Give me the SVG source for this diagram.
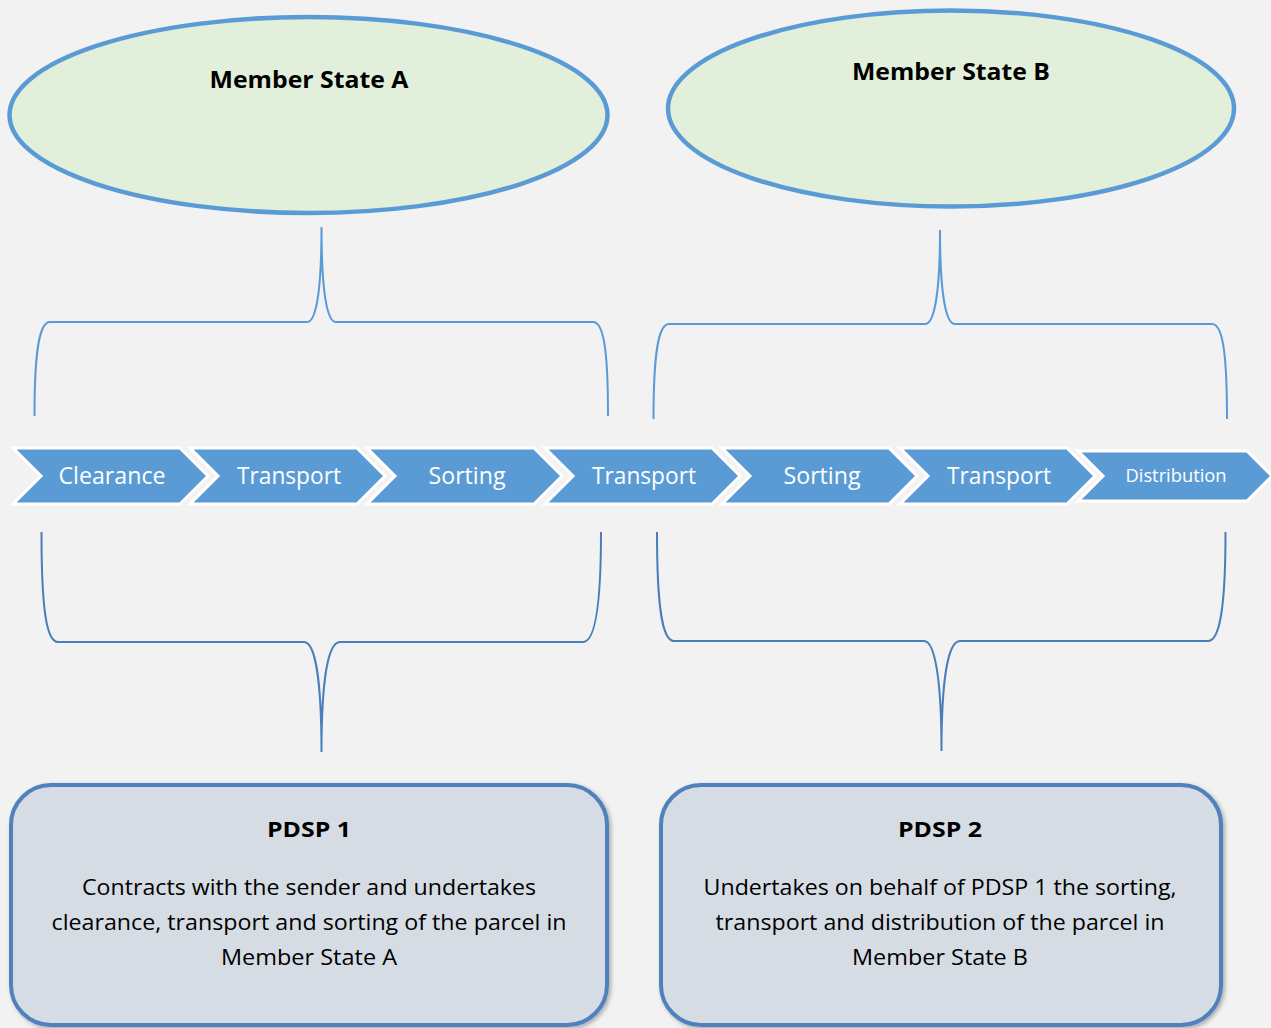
<svg xmlns="http://www.w3.org/2000/svg" width="1271" height="1028" viewBox="0 0 1271 1028">
  <defs>
    <style>
      .bg { fill: #f2f2f2; }
      .state { fill: #e2efda; stroke: #5b9bd5; stroke-width: 4.5; }
      .state-label { font-family: "Open Sans", "Liberation Sans", sans-serif; font-weight: 700; font-size: 24px; fill: #000; text-anchor: middle; }
      .step { fill: #5b9bd5; stroke: #ffffff; stroke-width: 3; stroke-linejoin: miter; }
      .step-label { font-family: "Open Sans", "Liberation Sans", sans-serif; font-size: 23px; fill: #ffffff; text-anchor: middle; }
      .step-label-small { font-family: "Open Sans", "Liberation Sans", sans-serif; font-size: 18px; fill: #ffffff; text-anchor: middle; }
      .brace-top { fill: none; stroke: #5b9bd5; stroke-width: 2; }
      .brace-bottom { fill: none; stroke: #4a7ebb; stroke-width: 2; }
      .provider { fill: #d6dce4; stroke: #4f81bd; stroke-width: 4; }
      .provider-title { font-family: "Open Sans", "Liberation Sans", sans-serif; font-weight: 700; font-size: 22px; fill: #000; text-anchor: middle; }
      .provider-text { font-family: "Open Sans", "Liberation Sans", sans-serif; font-size: 21px; fill: #000; text-anchor: middle; }
    </style>
    <filter id="shadow" x="-5%" y="-5%" width="110%" height="115%">
      <feDropShadow dx="2" dy="2" stdDeviation="2" flood-color="#000" flood-opacity="0.3"/>
    </filter>
    <!-- one process step: chevron with a notch on the left -->
    <path id="chevron" d="M0,0 L167,0 L195,28 L167,56 L0,56 L28,28 Z"/>
  </defs>

  <rect class="bg" x="0" y="0" width="1271" height="1028"/>

  <!-- Member states -->
  <g id="member-state-a">
    <ellipse class="state" cx="308.5" cy="115" rx="299" ry="98"/>
    <text class="state-label" x="309" y="88" textLength="199" lengthAdjust="spacingAndGlyphs">Member State A</text>
  </g>
  <g id="member-state-b">
    <ellipse class="state" cx="951" cy="108.5" rx="283" ry="98"/>
    <text class="state-label" x="951" y="80" textLength="198" lengthAdjust="spacingAndGlyphs">Member State B</text>
  </g>

  <!-- Process chain -->
  <g id="step-clearance">
    <use href="#chevron" class="step" x="13" y="448"/>
    <text class="step-label" x="112" y="484" textLength="107" lengthAdjust="spacingAndGlyphs">Clearance</text>
  </g>
  <g id="step-transport-1">
    <use href="#chevron" class="step" x="190" y="448"/>
    <text class="step-label" x="289" y="484" textLength="104" lengthAdjust="spacingAndGlyphs">Transport</text>
  </g>
  <g id="step-sorting-1">
    <use href="#chevron" class="step" x="367" y="448"/>
    <text class="step-label" x="467" y="484" textLength="77" lengthAdjust="spacingAndGlyphs">Sorting</text>
  </g>
  <g id="step-transport-2">
    <use href="#chevron" class="step" x="545" y="448"/>
    <text class="step-label" x="644" y="484" textLength="104" lengthAdjust="spacingAndGlyphs">Transport</text>
  </g>
  <g id="step-sorting-2">
    <use href="#chevron" class="step" x="722" y="448"/>
    <text class="step-label" x="822" y="484" textLength="77" lengthAdjust="spacingAndGlyphs">Sorting</text>
  </g>
  <g id="step-transport-3">
    <use href="#chevron" class="step" x="900" y="448"/>
    <text class="step-label" x="999" y="484" textLength="104" lengthAdjust="spacingAndGlyphs">Transport</text>
  </g>
  <g id="step-distribution">
    <path class="step" d="M1078,451 L1247,451 L1272,476 L1247,501 L1078,501 L1103,476 Z"/>
    <text class="step-label-small" x="1176" y="482" textLength="101" lengthAdjust="spacingAndGlyphs">Distribution</text>
  </g>

  <!-- Braces linking states and providers to the steps -->
  <g id="connectors">
    <path class="brace-top" d="M34.5,416 C34.5,352 39,322 50,322 L307,322 C316,322 321.5,292 321.5,227 C321.5,292 327,322 336,322 L593,322 C604,322 608,352 608,416"/>
    <path class="brace-top" d="M653.5,419 C653.5,355 658,324 669,324 L925,324 C934,324 940,295 940,230 C940,295 946,324 955,324 L1212,324 C1223,324 1227,355 1227,419"/>
    <path class="brace-bottom" d="M41.5,532 C41.5,606 46,642 58,642 L304,642 C315,642 321.5,680 321.5,752 C321.5,680 328,642 340,642 L583,642 C595,642 601,606 601,532"/>
    <path class="brace-bottom" d="M657,532 C657,606 662,641 674,641 L924,641 C935,641 941.5,680 941.5,751 C941.5,680 948,641 960,641 L1208,641 C1220,641 1225.5,606 1225.5,532"/>
  </g>

  <!-- Postal delivery service providers -->
  <g id="pdsp-1">
    <rect class="provider" x="11" y="785" width="596" height="240" rx="40" ry="40" filter="url(#shadow)"/>
    <text class="provider-title" x="309" y="837" textLength="84" lengthAdjust="spacingAndGlyphs">PDSP 1</text>
    <text class="provider-text" x="309" y="895" textLength="454" lengthAdjust="spacingAndGlyphs">Contracts with the sender and undertakes</text>
    <text class="provider-text" x="309" y="930" textLength="515" lengthAdjust="spacingAndGlyphs">clearance, transport and sorting of the parcel in</text>
    <text class="provider-text" x="309" y="965" textLength="176" lengthAdjust="spacingAndGlyphs">Member State A</text>
  </g>
  <g id="pdsp-2">
    <rect class="provider" x="661" y="785" width="560" height="240" rx="40" ry="40" filter="url(#shadow)"/>
    <text class="provider-title" x="940" y="837" textLength="84" lengthAdjust="spacingAndGlyphs">PDSP 2</text>
    <text class="provider-text" x="940" y="895" textLength="473" lengthAdjust="spacingAndGlyphs">Undertakes on behalf of PDSP 1 the sorting,</text>
    <text class="provider-text" x="940" y="930" textLength="449" lengthAdjust="spacingAndGlyphs">transport and distribution of the parcel in</text>
    <text class="provider-text" x="940" y="965" textLength="176" lengthAdjust="spacingAndGlyphs">Member State B</text>
  </g>
</svg>
